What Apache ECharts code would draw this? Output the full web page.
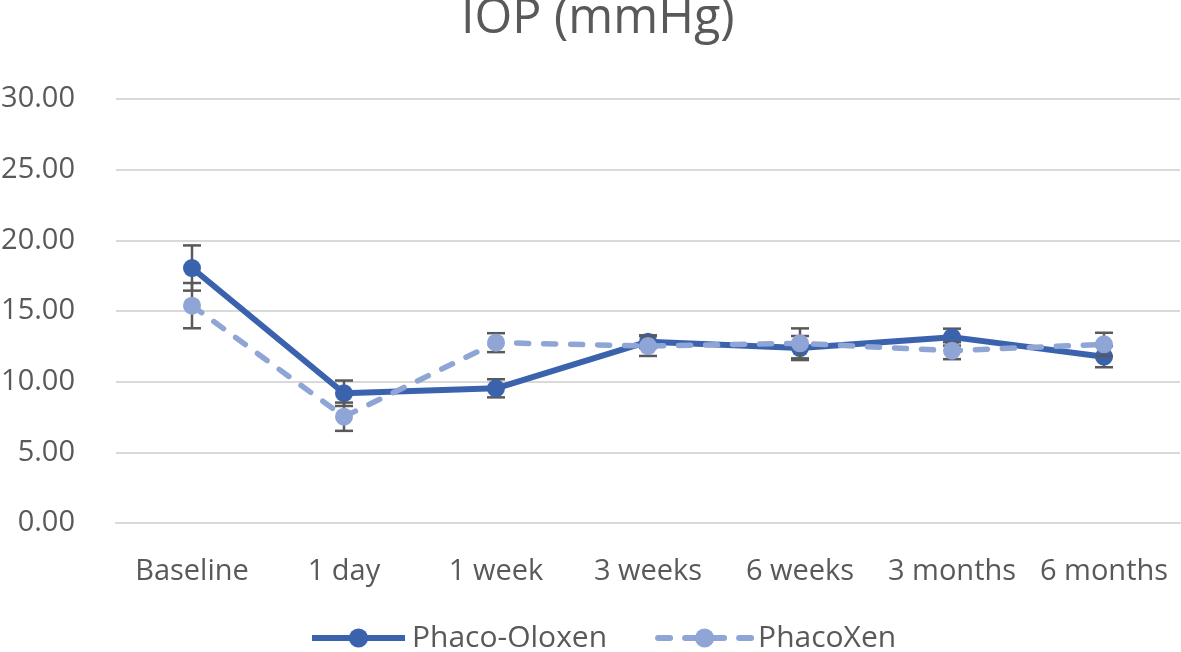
<!DOCTYPE html>
<html><head><meta charset="utf-8">
<script src="https://cdn.jsdelivr.net/npm/echarts@6/dist/echarts.min.js"></script>
<style>html,body{margin:0;padding:0;background:#fff}#c{width:1181px;height:652px}</style>
</head><body><div id="c"></div>
<script>
const categories = ['Baseline','1 day','1 week','3 weeks','6 weeks','3 months','6 months'];
const oloxen = [18.04, 9.18, 9.53, 12.83, 12.38, 13.15, 11.77];
const oloxenErr = [1.6, 0.9, 0.64, 0.45, 0.85, 0.6, 0.75];
const xen = [15.38, 7.52, 12.76, 12.52, 12.71, 12.19, 12.64];
const xenErr = [1.6, 1.0, 0.67, 0.7, 1.06, 0.6, 0.82];
const yTicks = [0, 5, 10, 15, 20, 25, 30];

const chart = echarts.init(document.getElementById('c'));
function errSeries(vals, errs, z) {
  return {
    type: 'custom', z: z, silent: true,
    data: vals.map((v, i) => [i, v - errs[i], v + errs[i]]),
    renderItem: function (params, api) {
      const lo = api.coord([api.value(0), api.value(1)]);
      const hi = api.coord([api.value(0), api.value(2)]);
      const w = 9;
      const st = {stroke: '#595959', lineWidth: 2.5};
      return {type: 'group', children: [
        {type: 'line', shape: {x1: lo[0], y1: lo[1], x2: hi[0], y2: hi[1]}, style: st},
        {type: 'line', shape: {x1: lo[0]-w, y1: lo[1], x2: lo[0]+w, y2: lo[1]}, style: st},
        {type: 'line', shape: {x1: hi[0]-w, y1: hi[1], x2: hi[0]+w, y2: hi[1]}, style: st}
      ]};
    }
  };
}
chart.setOption({
  animation: false,
  title: {text: 'IOP (mmHg)', left: 456, top: -10,
    textStyle: {fontFamily: 'Open Sans', fontSize: 48.5, fontWeight: 'normal', color: '#595959'}},
  grid: {left: 116, right: 1, top: 99, bottom: 129, outerBoundsMode: 'none', containLabel: false},
  xAxis: {type: 'category', data: categories, boundaryGap: true,
    axisLine: {show: true, lineStyle: {color: '#d9d9d9', width: 2}},
    axisTick: {show: false},
    axisLabel: {fontFamily: 'Open Sans', fontSize: 29, color: '#595959', margin: 34, interval: 0}},
  yAxis: {type: 'value', min: yTicks[0], max: yTicks[yTicks.length-1], interval: 5,
    axisLabel: {fontFamily: 'Open Sans', fontSize: 29, color: '#595959', margin: 41,
      formatter: v => v.toFixed(2)},
    splitLine: {lineStyle: {color: '#d9d9d9', width: 2}},
    axisLine: {show: false}, axisTick: {show: false}},
  legend: {top: 618, left: 304, itemWidth: 93, itemHeight: 24, itemGap: 48,
    textStyle: {fontFamily: 'Open Sans', fontSize: 30, color: '#595959', padding: [0, 0, 0, 2]},
    data: [
      {name: 'Phaco-Oloxen', lineStyle: {width: 6}},
      {name: 'PhacoXen', lineStyle: {width: 6, type: [12, 15], cap: 'round'}}
    ]},
  series: [
    errSeries(oloxen, oloxenErr, 1),
    {name: 'Phaco-Oloxen', type: 'line', data: oloxen, z: 2, symbol: 'circle', symbolSize: 18,
      lineStyle: {color: '#3B63AD', width: 6}, itemStyle: {color: '#3B63AD'}},
    errSeries(xen, xenErr, 3),
    {name: 'PhacoXen', type: 'line', data: xen, z: 4, symbol: 'circle', symbolSize: 18,
      lineStyle: {color: '#8FA5D6', width: 5.5, type: [12, 15], cap: 'round'}, itemStyle: {color: '#8FA5D6'}}
  ]
});
</script></body></html>
